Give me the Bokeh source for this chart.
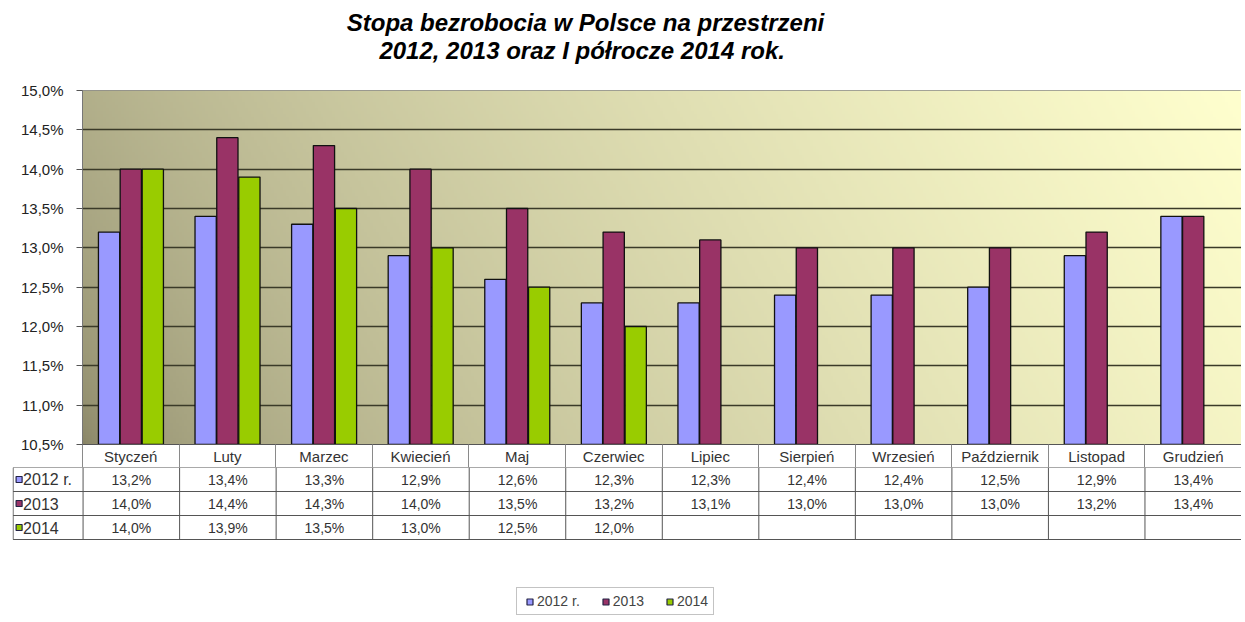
import numpy as np
from bokeh.plotting import figure
from bokeh.models import Range1d, FixedTicker, ColumnDataSource, Legend, LegendItem
from bokeh.transform import dodge
from bokeh.core.properties import value
from bokeh.embed import file_html
from bokeh.resources import INLINE

# ---------------- data ----------------
months = ["Styczeń", "Luty", "Marzec", "Kwiecień", "Maj", "Czerwiec", "Lipiec",
          "Sierpień", "Wrzesień", "Październik", "Listopad", "Grudzień"]
series_names = ["2012 r.", "2013", "2014"]
v2012 = [13.2, 13.4, 13.3, 12.9, 12.6, 12.3, 12.3, 12.4, 12.4, 12.5, 12.9, 13.4]
v2013 = [14.0, 14.4, 14.3, 14.0, 13.5, 13.2, 13.1, 13.0, 13.0, 13.0, 13.2, 13.4]
v2014 = [14.0, 13.9, 13.5, 13.0, 12.5, 12.0]
y_ticks = [10.5, 11.0, 11.5, 12.0, 12.5, 13.0, 13.5, 14.0, 14.5, 15.0]
y_tick_labels = ["10,5%", "11,0%", "11,5%", "12,0%", "12,5%", "13,0%", "13,5%",
                 "14,0%", "14,5%", "15,0%"]
title_lines = ["Stopa bezrobocia w Polsce na przestrzeni",
               "2012, 2013 oraz I półrocze  2014 rok."]
colors = ["#9999FF", "#993366", "#99CC00"]
series_values = [v2012, v2013, v2014]

FONT = value("Liberation Sans")

# ---------------- layout constants ----------------
W = 1241
LEFT = 82          # main frame left
FRAME_W = W - LEFT
UX = FRAME_W / 12.0  # px per category
TBL_LEFT = 12
HDR_COL = LEFT - TBL_LEFT

# ---------------- title ----------------
TH_T = 80
tf = figure(width=W, height=TH_T, x_range=Range1d(0, W), y_range=Range1d(TH_T, 0),
            output_backend="svg", toolbar_location=None,
            x_axis_location=None, y_axis_location=None,
            min_border=0, outline_line_color=None)
tf.grid.visible = False
tsrc = ColumnDataSource(dict(x=[585, 585], y=[22, 50], t=title_lines))
tf.text(x="x", y="y", text="t", source=tsrc, text_font=FONT,
        text_font_style="bold italic", text_font_size="24px",
        text_align="center", text_baseline="middle", text_color="#000000")

# ---------------- main chart ----------------
p = figure(width=W, height=387, x_range=Range1d(0, 12), y_range=Range1d(10.5, 15.0),
           output_backend="svg", toolbar_location=None,
           min_border_left=LEFT, min_border_right=0, min_border_top=10, min_border_bottom=23,
           outline_line_color="#8a8a8a")

# gradient background
nx, ny = 400, 120
tx = np.linspace(0, 1, nx)[None, :]
ty = np.linspace(0, 1, ny)[:, None]
s = np.clip(0.85 * tx + 0.15 * ty, 0, 1) ** 0.55
c0 = np.array([136, 132, 102], dtype=float)
c1 = np.array([255, 255, 206], dtype=float)
img = np.empty((ny, nx), dtype=np.uint32)
view = img.view(dtype=np.uint8).reshape((ny, nx, 4))
for k in range(3):
    view[:, :, k] = (c0[k] + (c1[k] - c0[k]) * s).astype(np.uint8)
view[:, :, 3] = 255
p.image_rgba(image=[img], x=0, y=10.5, dw=12, dh=4.5, level="image")

xs = [i + 0.5 for i in range(12)]
offsets = [-0.225, 0.0, 0.228]
for vals, col, off in zip(series_values, colors, offsets):
    src = ColumnDataSource(dict(x=xs[:len(vals)], top=vals))
    p.vbar(x=dodge("x", off, range=p.x_range), top="top", bottom=10.5, width=0.22,
           source=src, fill_color=col, line_color="#111111", line_width=1.3)

yt = FixedTicker(ticks=y_ticks)
p.yaxis.ticker = yt
p.yaxis.major_label_overrides = {t: l for t, l in zip(y_ticks, y_tick_labels)}
p.yaxis.major_label_text_font = "Liberation Sans"
p.yaxis.major_label_text_font_size = "15px"
p.yaxis.major_label_text_color = "#222222"
p.yaxis.major_label_standoff = 13
p.yaxis.major_tick_out = 6
p.yaxis.major_tick_in = 0
p.yaxis.minor_tick_line_color = None
p.yaxis.axis_line_color = "#777777"
p.yaxis.major_tick_line_color = "#555555"

p.ygrid.ticker = yt
p.ygrid.grid_line_color = "#3a3a28"
p.ygrid.grid_line_width = 1.5
p.xgrid.visible = False

xt = FixedTicker(ticks=xs, minor_ticks=list(range(13)))
p.xaxis.ticker = xt
p.xaxis.major_label_overrides = {x: m for x, m in zip(xs, months)}
p.xaxis.major_label_text_font = "Liberation Sans"
p.xaxis.major_label_text_font_size = "15px"
p.xaxis.major_label_text_color = "#333333"
p.xaxis.major_label_standoff = -20
p.xaxis.major_tick_out = 0
p.xaxis.major_tick_in = 0
p.xaxis.minor_tick_out = 23
p.xaxis.minor_tick_in = 0
p.xaxis.minor_tick_line_color = "#8a8a8a"
p.xaxis.axis_line_color = "#555555"

# ---------------- data table ----------------
TH = 149
x0 = -HDR_COL / UX
tb = figure(width=W, height=TH, x_range=Range1d(-(HDR_COL + 0.6) / UX, 12),
            y_range=Range1d(TH / 24.0, 0),
            output_backend="svg", toolbar_location=None,
            x_axis_location=None, y_axis_location=None,
            min_border_left=TBL_LEFT, min_border_right=0, min_border_top=0,
            min_border_bottom=0, outline_line_color=None)
tb.grid.visible = False

nrows = len(series_names)
hy = list(range(nrows + 1))
tb.segment(x0=[x0] * (nrows + 1), y0=hy, x1=[12] * (nrows + 1), y1=hy,
           line_color="#555555", line_width=1)
vx = [x0] + list(range(13))
tb.segment(x0=vx, y0=[0] * len(vx), x1=vx, y1=[nrows] * len(vx),
           line_color="#555555", line_width=1)

tx_, ty_, tt_ = [], [], []
for r, vals in enumerate(series_values):
    for i, v in enumerate(vals):
        tx_.append(xs[i])
        ty_.append(r + 0.5)
        tt_.append(f"{v:.1f}%".replace(".", ","))
tb.text(x=tx_, y=ty_, text=tt_, text_font=FONT, text_font_size="14px",
        text_color="#333333", text_align="center", text_baseline="middle")

ry = [r + 0.5 for r in range(nrows)]
legend_items = []
for r, (name, col) in enumerate(zip(series_names, colors)):
    key = tb.scatter(x=[(18 - LEFT) / UX], y=[ry[r]], marker="square", size=6,
                     fill_color=col, line_color="#222244", line_width=1.2)
    legend_items.append(LegendItem(label=name, renderers=[key]))
tb.text(x=[(22 - LEFT) / UX] * nrows, y=ry, text=series_names, text_font=FONT,
        text_font_size="16px", text_color="#333333", text_align="left",
        text_baseline="middle")

legend = Legend(items=legend_items, orientation="horizontal", location=(504, 1),
                glyph_width=15, glyph_height=15, label_standoff=-2, spacing=18,
                padding=5, margin=0, label_height=16,
                label_text_font="Liberation Sans", label_text_font_size="14px",
                label_text_color="#444444", border_line_color="#888888",
                background_fill_color="#ffffff", background_fill_alpha=1.0)
tb.add_layout(legend)

open("out.html", "w").write(file_html([tf, p, tb], INLINE))
